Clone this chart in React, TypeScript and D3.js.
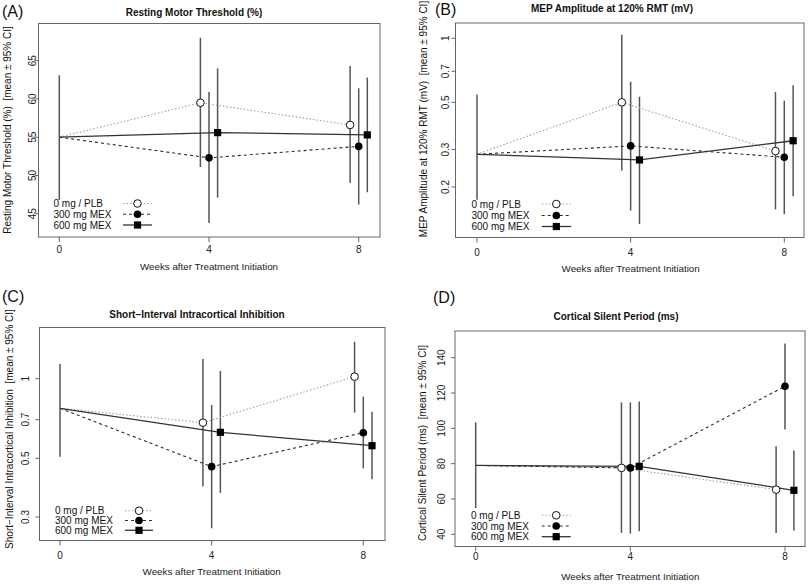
import React from "react";
import * as d3 from "d3";

// ---------- DATA ----------
const weeks = [0, 4, 8];
const groupLabels = ["0 mg / PLB", "300 mg MEX", "600 mg MEX"];
const groupOffsets = [-0.23, 0, 0.23];

// (A) Resting Motor Threshold (%) — rows: PLB, 300 mg, 600 mg ; cols: week 0, 4, 8
const rmtMean = [[55.0, 59.5, 56.6], [55.0, 52.3, 53.8], [55.0, 55.6, 55.3]];
const rmtLower = [[46.8, 51.1, 49.0], [46.8, 43.8, 46.2], [46.8, 47.1, 47.8]];
const rmtUpper = [[63.1, 68.0, 64.3], [63.1, 60.9, 61.4], [63.1, 64.0, 62.8]];
const rmtTicks = [45, 50, 55, 60, 65];

// (B) MEP Amplitude at 120% RMT (mV)
const mepMean = [[0.285, 0.5, 0.295], [0.285, 0.312, 0.276], [0.285, 0.268, 0.33]];
const mepLower = [[0.174, 0.239, 0.157], [0.174, 0.155, 0.149], [0.174, 0.134, 0.181]];
const mepUpper = [[0.545, 1.04, 0.559], [0.545, 0.625, 0.509], [0.545, 0.531, 0.601]];
const mepTicks = [0.2, 0.3, 0.5, 0.7, 1];

// (C) Short-Interval Intracortical Inhibition
const siciMean = [[0.773, 0.682, 1.018], [0.773, 0.465, 0.625], [0.773, 0.627, 0.558]];
const siciLower = [[0.507, 0.391, 0.744], [0.507, 0.272, 0.458], [0.507, 0.37, 0.417]];
const siciUpper = [[1.137, 1.187, 1.38], [1.137, 0.795, 0.855], [1.137, 1.069, 0.75]];
const siciTicks = [0.3, 0.5, 0.7, 1];

// (D) Cortical Silent Period (ms)
const cspMean = [[79.0, 77.6, 65.3], [79.0, 77.6, 123.8], [79.0, 78.5, 64.9]];
const cspLower = [[54.9, 40.8, 40.8], [54.9, 40.4, 99.3], [54.9, 41.7, 42.2]];
const cspUpper = [[103.4, 114.7, 89.8], [103.4, 114.7, 148.0], [103.4, 115.2, 87.5]];
const cspTicks = [40, 60, 80, 100, 120, 140];

const xTicks = [0, 4, 8];

// ---------- STYLE ----------
const FONT = "'Liberation Sans', Arial, Helvetica, sans-serif";
const BOX = "#666";
const BAR = "#555";
const GAP = "\u00a0\u00a0";
const lineStyles = [
  { stroke: "#a0a0a0", dash: "1.5,2", width: 1.1 },
  { stroke: "#2a2a2a", dash: "3,3", width: 1.1 },
  { stroke: "#333", dash: "", width: 1.3 },
];

type PanelCfg = {
  letter: string;
  title: string;
  ylab: string;
  mean: number[][];
  lower: number[][];
  upper: number[][];
  ticks: number[];
  log: boolean;
  box: { l: number; r: number; t: number; b: number };
  xRange: [number, number];
  yRef: [number, number];
  yRefPx: [number, number];
  yLabX: number;
  xLabY: number;
  xTitleY: number;
  titleX: number;
  titleY: number;
  letterX: number;
  letterY: number;
  yTitleX: number;
  yTitleY: number;
  legX: number;
  legY: number[];
  legLine: [number, number];
};

const panels: PanelCfg[] = [
  {
    letter: "(A)", title: "Resting Motor Threshold (%)",
    ylab: "Resting Motor Threshold (%)" + GAP + "[mean \u00b1 95% CI]",
    mean: rmtMean, lower: rmtLower, upper: rmtUpper, ticks: rmtTicks, log: false,
    box: { l: 38.5, r: 380, t: 23.5, b: 237 }, xRange: [59.3, 358.7],
    yRef: [45, 65], yRefPx: [213.7, 60.7], yLabX: 32.5, xLabY: 249.5, xTitleY: 266.5,
    titleX: 194, titleY: 12, letterX: 2, letterY: 11.5, yTitleX: 7, yTitleY: 130,
    legX: 53.5, legY: [203.5, 214.3, 225], legLine: [123, 152],
  },
  {
    letter: "(B)", title: "MEP Amplitude at 120% RMT (mV)",
    ylab: "MEP Amplitude at 120% RMT (mV)" + GAP + "[mean \u00b1 95% CI]",
    mean: mepMean, lower: mepLower, upper: mepUpper, ticks: mepTicks, log: true,
    box: { l: 455.5, r: 804, t: 23, b: 237.5 }, xRange: [477, 784.3],
    yRef: [0.2, 1], yRefPx: [187, 38.3], yLabX: 445, xLabY: 252, xTitleY: 268.5,
    titleX: 612, titleY: 8.5, letterX: 435, letterY: 9.5, yTitleX: 423, yTitleY: 119,
    legX: 471.5, legY: [204, 215.5, 226.5], legLine: [541.7, 571],
  },
  {
    letter: "(C)", title: "Short\u2212Interval Intracortical Inhibition",
    ylab: "Short\u2212Interval Intracortical Inhibition" + GAP + "[mean \u00b1 95% CI]",
    mean: siciMean, lower: siciLower, upper: siciUpper, ticks: siciTicks, log: true,
    box: { l: 39.5, r: 385, t: 327.5, b: 540.5 }, xRange: [60, 363.3],
    yRef: [0.3, 1], yRefPx: [517, 378.7], yLabX: 25.5, xLabY: 555, xTitleY: 572,
    titleX: 197, titleY: 314, letterX: 2, letterY: 296, yTitleX: 9, yTitleY: 429,
    legX: 55, legY: [510.7, 520.5, 530.3], legLine: [125, 153],
  },
  {
    letter: "(D)", title: "Cortical Silent Period (ms)",
    ylab: "Cortical Silent Period (ms)" + GAP + "[mean \u00b1 95% CI]",
    mean: cspMean, lower: cspLower, upper: cspUpper, ticks: cspTicks, log: false,
    box: { l: 455, r: 805, t: 331, b: 546.5 }, xRange: [475.7, 785],
    yRef: [40, 140], yRefPx: [534.3, 357.7], yLabX: 441, xLabY: 556, xTitleY: 577,
    titleX: 616, titleY: 316, letterX: 433, letterY: 297.5, yTitleX: 422, yTitleY: 443,
    legX: 471, legY: [515.3, 526, 536.7], legLine: [541.7, 570.7],
  },
];

function Marker({ g, x, y }: { g: number; x: number; y: number }) {
  if (g === 0) return <circle cx={x} cy={y} r={3.8} fill="#fff" stroke="#111" strokeWidth={1} />;
  if (g === 1) return <circle cx={x} cy={y} r={3.8} fill="#000" />;
  return <rect x={x - 3.6} y={y - 3.6} width={7.2} height={7.2} fill="#000" />;
}

function Panel({ p }: { p: PanelCfg }) {
  const x = d3.scaleLinear().domain([0, 8]).range(p.xRange);
  const y = p.log
    ? d3.scaleLog().domain(p.yRef).range(p.yRefPx)
    : d3.scaleLinear().domain(p.yRef).range(p.yRefPx);
  const px = (g: number, i: number) => x(weeks[i] + (i === 0 ? 0 : groupOffsets[g]));
  const lineFor = (g: number) => d3.line<number>().x((_, i) => px(g, i)).y((v) => y(v));
  const { box } = p;

  return (
    <g fontFamily={FONT}>
      <text x={p.letterX} y={p.letterY} dy="0.35em" fontSize={16} fill="#111">{p.letter}</text>
      <text x={p.titleX} y={p.titleY} dy="0.35em" fontSize={10} fontWeight="bold" textAnchor="middle" fill="#111">{p.title}</text>
      <rect x={box.l} y={box.t} width={box.r - box.l} height={box.b - box.t} fill="none" stroke={BOX} strokeWidth={1} />
      {p.ticks.map((t) => (
        <g key={"yt" + t}>
          <line x1={box.l - 4} x2={box.l} y1={y(t)} y2={y(t)} stroke={BOX} />
          <text transform={`translate(${p.yLabX},${y(t)}) rotate(-90)`} dy="0.35em" fontSize={10} textAnchor="middle" fill="#222">{t}</text>
        </g>
      ))}
      <text transform={`translate(${p.yTitleX},${p.yTitleY}) rotate(-90)`} dy="0.35em" fontSize={10} textAnchor="middle" fill="#111">{p.ylab}</text>
      {xTicks.map((t) => (
        <g key={"xt" + t}>
          <line x1={x(t)} x2={x(t)} y1={box.b} y2={box.b + 5} stroke={BOX} />
          <text x={x(t)} y={p.xLabY} dy="0.35em" fontSize={10} textAnchor="middle" fill="#222">{t}</text>
        </g>
      ))}
      <text x={(p.xRange[0] + p.xRange[1]) / 2} y={p.xTitleY} dy="0.35em" fontSize={9.8} textAnchor="middle" fill="#222">Weeks after Treatment Initiation</text>
      <line x1={px(0, 0)} x2={px(0, 0)} y1={y(p.lower[0][0])} y2={y(p.upper[0][0])} stroke={BAR} strokeWidth={1.5} />
      {p.mean.map((_, g) =>
        weeks.slice(1).map((_, k) => {
          const i = k + 1;
          return (
            <line key={`e${g}-${i}`} x1={px(g, i)} x2={px(g, i)} y1={y(p.lower[g][i])} y2={y(p.upper[g][i])} stroke={BAR} strokeWidth={1.5} />
          );
        })
      )}
      {p.mean.map((m, g) => {
        const s = lineStyles[g];
        return <path key={"l" + g} d={lineFor(g)(m) || ""} fill="none" stroke={s.stroke} strokeWidth={s.width} strokeDasharray={s.dash || undefined} />;
      })}
      {p.mean.map((m, g) =>
        m.slice(1).map((v, k) => <Marker key={`m${g}-${k}`} g={g} x={px(g, k + 1)} y={y(v)} />)
      )}
      {groupLabels.map((lab, g) => {
        const s = lineStyles[g];
        const ly = p.legY[g];
        const mx = (p.legLine[0] + p.legLine[1]) / 2;
        return (
          <g key={"lg" + g}>
            <text x={p.legX} y={ly} dy="0.35em" fontSize={10} fill="#111">{lab}</text>
            <line x1={p.legLine[0]} x2={p.legLine[1]} y1={ly} y2={ly} stroke={s.stroke} strokeWidth={s.width} strokeDasharray={s.dash || undefined} />
            <Marker g={g} x={mx} y={ly} />
          </g>
        );
      })}
    </g>
  );
}

export default function App() {
  return (
    <svg width={810} height={585} style={{ position: "absolute", left: 0, top: 0, background: "#fff" }}>
      <rect width={810} height={585} fill="#fff" />
      {panels.map((p) => (
        <Panel key={p.letter} p={p} />
      ))}
    </svg>
  );
}
